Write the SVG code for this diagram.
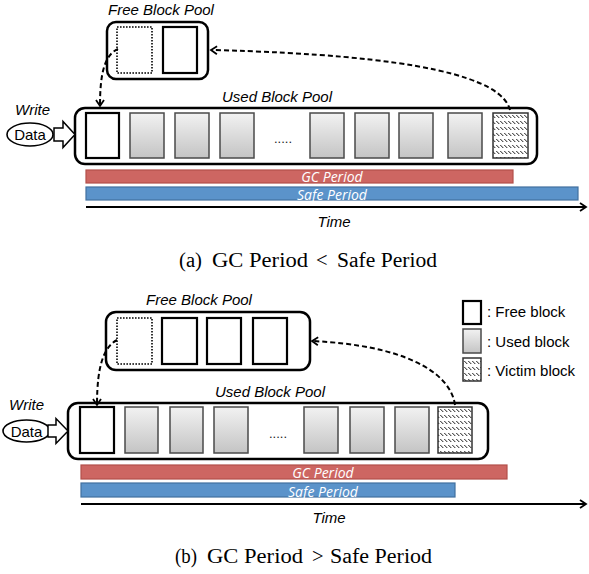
<svg xmlns="http://www.w3.org/2000/svg" width="589" height="574" viewBox="0 0 589 574">
<style>
.lbl{font-family:"Liberation Sans",Arial,sans-serif;font-style:italic;font-size:15px;fill:#000}
.reg{font-family:"Liberation Sans",Arial,sans-serif;font-size:15px;fill:#000}
.dots{font-family:"Liberation Sans",Arial,sans-serif;font-size:13px;fill:#222;text-anchor:middle}
.bar{font-family:"Open Sans","Liberation Sans",sans-serif;font-style:italic;font-size:14px;fill:#fff;text-anchor:middle}
.cap{font-family:"Liberation Serif","Times New Roman",serif;font-size:20.5px;fill:#000}
.pool{fill:#fff;stroke:#000;stroke-width:2.5}
.free{fill:#fff;stroke:#000;stroke-width:2.2}
.dot{fill:#fff;stroke:#000;stroke-width:1.6;stroke-dasharray:1.6 1.4}
.used{fill:url(#g);stroke:#4a4a4a;stroke-width:1.5}
.vic{fill:url(#h);stroke:#333;stroke-width:1.5}
.red{fill:#CD6662;stroke:#B24F4A;stroke-width:1.2}
.blue{fill:#5B93CA;stroke:#41709F;stroke-width:1.2}
.dash{fill:none;stroke:#000;stroke-width:2;stroke-dasharray:5 3}
.barrow{fill:#fff;stroke:#000;stroke-width:1.5;stroke-linejoin:miter}
.time{fill:none;stroke:#000;stroke-width:2}
</style>
<defs>
<linearGradient id="g" x1="0" y1="0" x2="0" y2="1">
<stop offset="0" stop-color="#f2f2f2"/>
<stop offset="1" stop-color="#c4c4c4"/>
</linearGradient>
<pattern id="h" width="4" height="6" patternUnits="userSpaceOnUse">
<rect width="4" height="6" fill="#fff"/>
<path d="M0.3 1 L3.3 4" stroke="#000" stroke-width="0.9"/>
</pattern>
<marker id="a" markerWidth="10" markerHeight="10" refX="8" refY="5" orient="auto" markerUnits="userSpaceOnUse">
<path d="M2 1 L8 5 L2 9" fill="none" stroke="#000" stroke-width="1.8"/>
</marker>
</defs>

<!-- Panel (a) -->
<g id="a-free-pool">
<text class="lbl" x="161" y="15" text-anchor="middle">Free Block Pool</text>
<rect class="pool" x="107" y="22" width="101" height="57" rx="9"/>
<rect class="dot" x="117" y="27" width="35" height="46"/>
<rect class="free" x="163" y="27" width="34" height="46"/>
</g>
<g id="a-used-pool">
<text class="lbl" x="277" y="102" text-anchor="middle">Used Block Pool</text>
<rect class="pool" x="75" y="108" width="462" height="56" rx="10"/>
<rect class="free" x="86" y="113" width="33" height="45"/>
<rect class="used" x="130" y="113" width="34" height="45"/>
<rect class="used" x="175" y="113" width="34" height="45"/>
<rect class="used" x="220" y="113" width="34" height="45"/>
<text class="dots" x="283" y="143">.....</text>
<rect class="used" x="310" y="113" width="34" height="45"/>
<rect class="used" x="355" y="113" width="34" height="45"/>
<rect class="used" x="399" y="113" width="34" height="45"/>
<rect class="used" x="448" y="113" width="34" height="45"/>
<rect class="vic" x="493" y="113" width="35" height="45"/>
</g>
<g id="a-write">
<text class="lbl" x="15" y="115">Write</text>
<ellipse cx="30" cy="134.5" rx="23" ry="11.5" fill="#fff" stroke="#000" stroke-width="1.6"/>
<text class="reg" x="30" y="140" text-anchor="middle" font-size="16">Data</text>
<path class="barrow" d="M54 128 H63 V121.5 L75 134.5 L63 147.5 V141 H54 Z"/>
</g>
<g id="a-periods">
<rect class="red" x="86" y="170" width="427" height="13"/>
<text class="bar" x="332" y="182">GC Period</text>
<rect class="blue" x="86" y="187" width="492" height="13"/>
<text class="bar" x="332" y="199.5">Safe Period</text>
<text class="lbl" x="334" y="227" text-anchor="middle">Time</text>
</g>
<g id="a-caption">
<text class="cap" x="179" y="267" textLength="23" lengthAdjust="spacingAndGlyphs">(a)</text>
<text class="cap" x="212" y="267" textLength="96" lengthAdjust="spacingAndGlyphs">GC Period</text>
<text class="cap" x="316" y="267">&lt;</text>
<text class="cap" x="337" y="267" textLength="100" lengthAdjust="spacingAndGlyphs">Safe Period</text>
</g>

<!-- Panel (b) -->
<g id="b-free-pool">
<text class="lbl" x="199" y="305" text-anchor="middle">Free Block Pool</text>
<rect class="pool" x="106" y="312" width="204" height="58" rx="10"/>
<rect class="dot" x="117" y="318" width="35" height="46"/>
<rect class="free" x="162" y="318" width="35" height="46"/>
<rect class="free" x="207" y="318" width="34" height="46"/>
<rect class="free" x="253" y="318" width="34" height="46"/>
</g>
<g id="b-used-pool">
<text class="lbl" x="270" y="397" text-anchor="middle">Used Block Pool</text>
<rect class="pool" x="68" y="403" width="420" height="56" rx="10"/>
<rect class="free" x="80" y="407" width="34" height="46"/>
<rect class="used" x="125" y="407" width="33" height="46"/>
<rect class="used" x="170" y="407" width="33" height="46"/>
<rect class="used" x="214" y="407" width="34" height="46"/>
<text class="dots" x="278" y="438">.....</text>
<rect class="used" x="304" y="407" width="34" height="46"/>
<rect class="used" x="350" y="407" width="34" height="46"/>
<rect class="used" x="395" y="407" width="34" height="46"/>
<rect class="vic" x="438" y="407" width="34" height="46"/>
</g>
<g id="b-write">
<text class="lbl" x="9" y="410">Write</text>
<ellipse cx="26.5" cy="431" rx="23.5" ry="11" fill="#fff" stroke="#000" stroke-width="1.6"/>
<text class="reg" x="26.5" y="437" text-anchor="middle" font-size="16">Data</text>
<path class="barrow" d="M48 425 H56 V418.5 L68 431 L56 443.5 V437 H48 Z"/>
</g>
<g id="b-legend">
<rect class="free" x="463" y="301" width="18" height="23"/>
<text class="reg" x="487" y="317">: Free block</text>
<rect class="used" x="463" y="329" width="18" height="24"/>
<text class="reg" x="487" y="347">: Used block</text>
<rect class="vic" x="463" y="358" width="18" height="23"/>
<text class="reg" x="487" y="376">: Victim block</text>
</g>
<g id="b-periods">
<rect class="red" x="81" y="465" width="426" height="14"/>
<text class="bar" x="323" y="478">GC Period</text>
<rect class="blue" x="81" y="483" width="374" height="14"/>
<text class="bar" x="323" y="497">Safe Period</text>
<text class="lbl" x="329" y="523" text-anchor="middle">Time</text>
</g>
<g id="b-caption">
<text class="cap" x="175" y="563" textLength="22" lengthAdjust="spacingAndGlyphs">(b)</text>
<text class="cap" x="207" y="563" textLength="96" lengthAdjust="spacingAndGlyphs">GC Period</text>
<text class="cap" x="312" y="563">&gt;</text>
<text class="cap" x="330" y="563" textLength="102" lengthAdjust="spacingAndGlyphs">Safe Period</text>
</g>

<g id="connectors">
<path class="dash" d="M510 110 C502 78, 420 55, 211 50" marker-end="url(#a)"/>
<path class="dash" d="M118 49 C104 55, 100 75, 100 106" marker-end="url(#a)"/>
<path class="time" d="M86 207 H586" marker-end="url(#a)"/>
<path class="dash" d="M455 405 C450 370, 400 345, 312 341" marker-end="url(#a)"/>
<path class="dash" d="M117 340 C104 347, 97 365, 97 405" marker-end="url(#a)"/>
<path class="time" d="M81 504 H586" marker-end="url(#a)"/>
</g>
</svg>
